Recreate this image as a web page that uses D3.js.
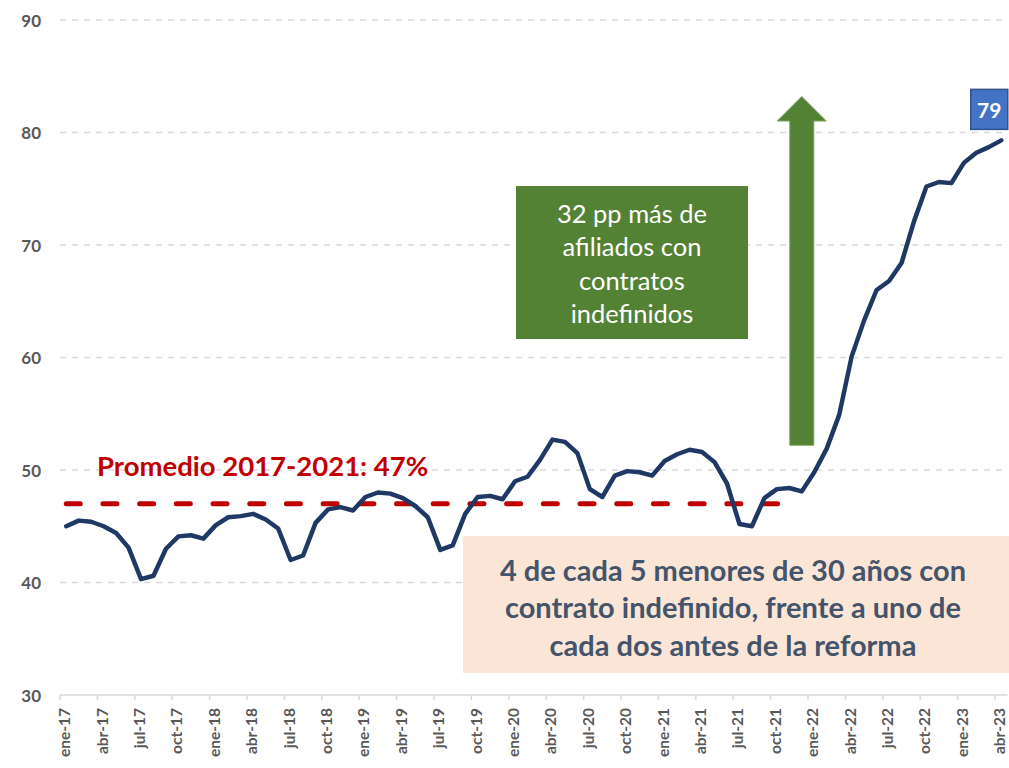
<!DOCTYPE html>
<html>
<head>
<meta charset="utf-8">
<script src="https://cdn.jsdelivr.net/npm/d3@7"></script>
<style>
  html, body { margin: 0; padding: 0; background: #fff; }
  svg { display: block; }
  text { font-family: Lato, "Open Sans", "Liberation Sans", sans-serif; }
</style>
</head>
<body>
<svg id="chart" width="1009" height="768"></svg>
<script>
// ---- data ----
const monthNames = ["ene","feb","mar","abr","may","jun","jul","ago","sep","oct","nov","dic"];
const years = ["17","18","19","20","21","22","23"];
const months = [];
years.forEach(yy => monthNames.forEach(m => months.push(m + "-" + yy)));
months.splice(months.indexOf("abr-23") + 1);   // ene-17 ... abr-23

const values = [
  45.0, 45.5, 45.4, 45.0, 44.4, 43.1, 40.3, 40.6, 43.0, 44.1, 44.2, 43.9,
  45.1, 45.8, 45.9, 46.1, 45.6, 44.8, 42.0, 42.4, 45.3, 46.5, 46.7, 46.4,
  47.6, 48.0, 47.9, 47.5, 46.8, 45.8, 42.9, 43.3, 46.1, 47.6, 47.7, 47.4,
  49.0, 49.4, 50.9, 52.7, 52.5, 51.5, 48.3, 47.6, 49.5, 49.9, 49.8, 49.5,
  50.8, 51.4, 51.8, 51.6, 50.7, 48.8, 45.2, 45.0, 47.5, 48.3, 48.4, 48.1,
  49.8, 51.9, 54.9, 60.1, 63.3, 66.0, 66.8, 68.4, 72.1, 75.2, 75.6, 75.5,
  77.3, 78.2, 78.7, 79.3
];
const yTicks = [30, 40, 50, 60, 70, 80, 90];
const xTickLabels = months.filter((m, i) => i % 3 === 0);

const avgValue = 47;
const avgFrom = "ene-17", avgTo = "nov-21";
const avgLabel = "Promedio 2017-2021: 47%";
const lastLabel = "79";
const arrowFrom = 52.2, arrowTo = 83.2, arrowMonth = "dic-21";
const greenText = ["32 pp más de", "afiliados con", "contratos", "indefinidos"];
const peachText = ["4 de cada 5 menores de 30 años con", "contrato indefinido, frente a uno de", "cada dos antes de la reforma"];

// ---- scales ----
const svg = d3.select("#chart");
const x = d3.scaleBand().domain(months).range([60, 1007.5]).padding(0);
const bw = x.bandwidth();
const cx = m => x(m) + bw / 2;
const y = d3.scaleLinear().domain([30, 90]).range([695, 20]);

// gridlines
svg.append("g").selectAll("line").data(yTicks.filter(t => t > 30)).join("line")
  .attr("x1", 60).attr("x2", 1007.5)
  .attr("y1", d => y(d)).attr("y2", d => y(d))
  .attr("stroke", "#D9D9D9").attr("stroke-width", 1.3)
  .attr("stroke-dasharray", "6 6");

// y labels
svg.append("g").selectAll("text").data(yTicks).join("text")
  .attr("x", 41).attr("y", d => y(d))
  .attr("text-anchor", "end").attr("dominant-baseline", "central")
  .attr("fill", "#595959").attr("font-weight", "bold").attr("font-size", 17)
  .text(d => d);

// x axis
const xAxis = svg.append("g").attr("transform", `translate(0,${y(30)})`);
xAxis.append("line").attr("x1", 60).attr("x2", 1007.5).attr("y1", 0).attr("y2", 0)
  .attr("stroke", "#D9D9D9").attr("stroke-width", 1.5);
xAxis.selectAll("line.tick").data(xTickLabels).join("line").attr("class", "tick")
  .attr("x1", d => x(d)).attr("x2", d => x(d)).attr("y1", 0).attr("y2", 5)
  .attr("stroke", "#D9D9D9").attr("stroke-width", 1.5);
xAxis.selectAll("text").data(xTickLabels).join("text")
  .attr("transform", d => `translate(${cx(d) - 2},13) rotate(-90)`)
  .attr("text-anchor", "end").attr("dominant-baseline", "central")
  .attr("fill", "#595959").attr("font-weight", "bold").attr("font-size", 15.5)
  .text(d => d);

// average dashed line
const avgData = months.slice(months.indexOf(avgFrom), months.indexOf(avgTo) + 1);
svg.append("path")
  .attr("d", d3.line().x(m => cx(m)).y(() => y(avgValue))(avgData))
  .attr("fill", "none").attr("stroke", "#C00000").attr("stroke-width", 5)
  .attr("stroke-linecap", "round").attr("stroke-dasharray", "14 22.7");

svg.append("text").attr("x", 97).attr("y", 476)
  .attr("fill", "#C00000").attr("font-weight", "bold").attr("font-size", 27.5)
  .text(avgLabel);

// peach box
svg.append("rect").attr("x", 463).attr("y", 536).attr("width", 546).attr("height", 137)
  .attr("fill", "#FBE5D6");
svg.append("g").selectAll("text").data(peachText).join("text")
  .attr("x", 733).attr("y", (d, i) => 569 + i * 37.5)
  .attr("text-anchor", "middle").attr("dominant-baseline", "central")
  .attr("fill", "#44546A").attr("font-weight", "bold").attr("font-size", 29)
  .text(d => d);

// green box
svg.append("rect").attr("x", 516).attr("y", 186).attr("width", 232).attr("height", 153)
  .attr("fill", "#548235");
svg.append("g").selectAll("text").data(greenText).join("text")
  .attr("x", 632).attr("y", (d, i) => 213 + i * 33.3)
  .attr("text-anchor", "middle").attr("dominant-baseline", "central")
  .attr("fill", "#FFFFFF").attr("font-size", 25.5)
  .text(d => d);

// green arrow
const ax = cx(arrowMonth), yb = y(arrowFrom), yt = y(arrowTo);
const headBase = yt + 24.5;
svg.append("path")
  .attr("d", `M${ax-12},${yb} L${ax-12},${headBase} L${ax-24.5},${headBase} L${ax},${yt} L${ax+24.5},${headBase} L${ax+12},${headBase} L${ax+12},${yb} Z`)
  .attr("fill", "#548235").attr("stroke", "#7FA25F").attr("stroke-width", 1);

// main line
svg.append("path")
  .datum(values)
  .attr("d", d3.line().x((d, i) => cx(months[i])).y(d => y(d)))
  .attr("fill", "none").attr("stroke", "#1F3864").attr("stroke-width", 4.5)
  .attr("stroke-linejoin", "round").attr("stroke-linecap", "round");

// last value label
const lastM = months[months.length - 1], lastV = values[values.length - 1];
const lx = cx(lastM) - 12, ly = y(lastV) - 31;
svg.append("rect").attr("x", lx - 18.5).attr("y", ly - 20).attr("width", 37).attr("height", 40)
  .attr("fill", "#4472C4").attr("stroke", "#2F528F").attr("stroke-width", 1.5);
svg.append("text").attr("x", lx).attr("y", ly)
  .attr("text-anchor", "middle").attr("dominant-baseline", "central")
  .attr("fill", "#FFFFFF").attr("font-weight", "bold").attr("font-size", 21)
  .text(lastLabel);
</script>
</body>
</html>
